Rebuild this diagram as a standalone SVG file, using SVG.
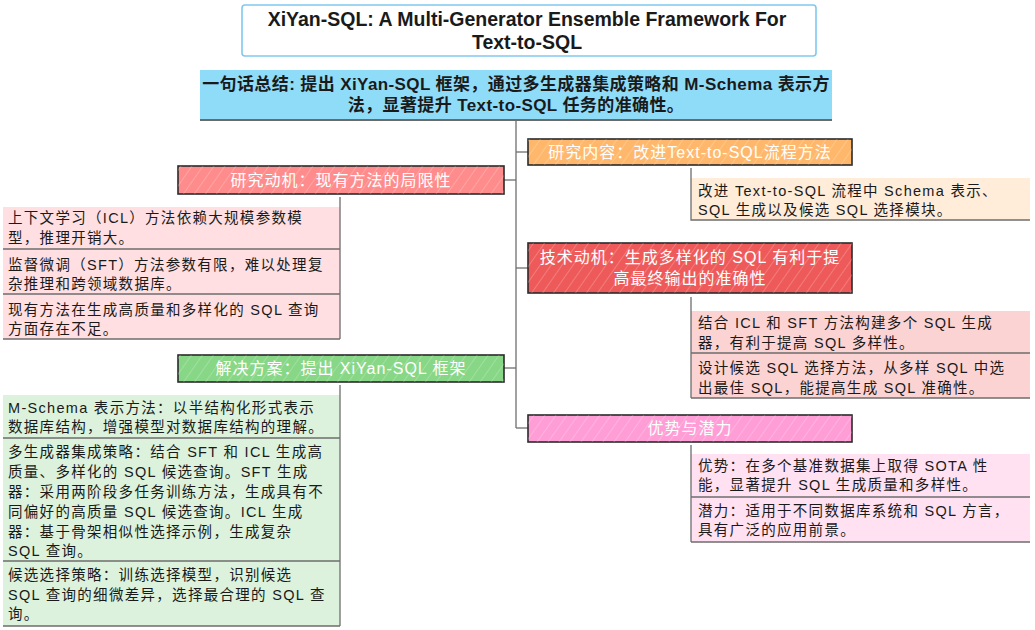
<svg xmlns="http://www.w3.org/2000/svg" width="1035" height="630" viewBox="0 0 1035 630">
<defs>
<pattern id="hatch" width="9" height="9" patternUnits="userSpaceOnUse" patternTransform="rotate(35)">
<line x1="0" y1="0" x2="0" y2="9" stroke="#ffffff" stroke-opacity="0.35" stroke-width="1.2"/>
</pattern>
<style>
.t{font-family:"Liberation Sans","Noto Sans CJK SC",sans-serif;fill:#1a1a1a}
.title{font-size:19.5px;font-weight:bold;text-anchor:middle}
.root{font-size:17px;font-weight:bold;text-anchor:middle;letter-spacing:0.4px}
.br{font-family:"Liberation Sans","Noto Sans CJK SC",sans-serif;font-size:16px;fill:#ffffff;text-anchor:middle;letter-spacing:1px}
.lf{font-size:14.5px;letter-spacing:1.3px}
.bx{stroke:#2a2a2a;stroke-width:1.6}
.con{stroke:#6e6e6e;stroke-width:1.3;fill:none}
.edge{stroke:#6e6e6e;stroke-width:1.3;fill:none}
</style>
</defs>
<rect width="1035" height="630" fill="#ffffff"/>

<g id="connectors">
<line class="con" x1="516" y1="120" x2="516" y2="428"/>
<line class="con" x1="504" y1="180" x2="516" y2="180"/>
<line class="con" x1="516" y1="152" x2="528" y2="152"/>
<line class="con" x1="516" y1="268" x2="528" y2="268"/>
<line class="con" x1="504" y1="368" x2="516" y2="368"/>
<line class="con" x1="516" y1="428" x2="528" y2="428"/>
</g>

<g id="title">
<rect x="242" y="5" width="574" height="51" rx="3" fill="#ffffff" stroke="#7fc9ef" stroke-width="1.6"/>
<text class="t title" x="527" y="26">XiYan-SQL: A Multi-Generator Ensemble Framework For</text>
<text class="t title" x="527" y="49">Text-to-SQL</text>
</g>

<g id="root">
<rect x="200" y="70" width="632" height="50" fill="#8fdcf8"/>
<line x1="200" y1="120" x2="832" y2="120" stroke="#6a6a6a" stroke-width="2"/>
<text class="t root" x="516" y="90">一句话总结: 提出 XiYan-SQL 框架，通过多生成器集成策略和 M-Schema 表示方</text>
<text class="t root" x="516" y="111">法，显著提升 Text-to-SQL 任务的准确性。</text>
</g>

<g id="b-motivation">
<rect class="bx" x="178" y="166" width="326" height="28" fill="#ff8c8c"/>
<rect x="178" y="166" width="326" height="28" fill="url(#hatch)"/>
<text class="br" x="341" y="186">研究动机：现有方法的局限性</text>
</g>
<g id="l-motivation">
<rect x="3" y="207" width="337" height="132" fill="#ffdfe1"/>
<path class="edge" d="M340 197 V339 M3 249 H340 M3 294 H340 M3 339 H340"/>
<text class="t lf" x="8" y="223">上下文学习（ICL）方法依赖大规模参数模</text>
<text class="t lf" x="8" y="243">型，推理开销大。</text>
<text class="t lf" x="8" y="270">监督微调（SFT）方法参数有限，难以处理复</text>
<text class="t lf" x="8" y="289">杂推理和跨领域数据库。</text>
<text class="t lf" x="8" y="315">现有方法在生成高质量和多样化的 SQL 查询</text>
<text class="t lf" x="8" y="334">方面存在不足。</text>
</g>

<g id="b-solution">
<rect class="bx" x="178" y="355" width="326" height="27" fill="#87d787"/>
<rect x="178" y="355" width="326" height="27" fill="url(#hatch)"/>
<text class="br" x="341" y="374">解决方案：提出 XiYan-SQL 框架</text>
</g>
<g id="l-solution">
<rect x="3" y="395" width="337" height="231" fill="#dcf2dc"/>
<path class="edge" d="M340 385 V626 M3 438 H340 M3 561 H340 M3 626 H340"/>
<text class="t lf" x="8" y="413">M-Schema 表示方法：以半结构化形式表示</text>
<text class="t lf" x="8" y="432">数据库结构，增强模型对数据库结构的理解。</text>
<text class="t lf" x="8" y="457">多生成器集成策略：结合 SFT 和 ICL 生成高</text>
<text class="t lf" x="8" y="477">质量、多样化的 SQL 候选查询。SFT 生成</text>
<text class="t lf" x="8" y="497">器：采用两阶段多任务训练方法，生成具有不</text>
<text class="t lf" x="8" y="517">同偏好的高质量 SQL 候选查询。ICL 生成</text>
<text class="t lf" x="8" y="537">器：基于骨架相似性选择示例，生成复杂</text>
<text class="t lf" x="8" y="556">SQL 查询。</text>
<text class="t lf" x="8" y="580">候选选择策略：训练选择模型，识别候选</text>
<text class="t lf" x="8" y="600">SQL 查询的细微差异，选择最合理的 SQL 查</text>
<text class="t lf" x="8" y="619">询。</text>
</g>

<g id="b-content">
<rect class="bx" x="528" y="139" width="324" height="26" fill="#ffb86b"/>
<rect x="528" y="139" width="324" height="26" fill="url(#hatch)"/>
<text class="br" x="690" y="158">研究内容：改进Text-to-SQL流程方法</text>
</g>
<g id="l-content">
<rect x="691" y="178" width="339" height="42" fill="#ffecd9"/>
<path class="edge" d="M691 168 V220 H1030"/>
<text class="t lf" x="698" y="196">改进 Text-to-SQL 流程中 Schema 表示、</text>
<text class="t lf" x="698" y="215">SQL 生成以及候选 SQL 选择模块。</text>
</g>

<g id="b-tech">
<rect class="bx" x="528" y="243" width="324" height="50" fill="#ee5a5a"/>
<rect x="528" y="243" width="324" height="50" fill="url(#hatch)"/>
<text class="br" x="690" y="263">技术动机：生成多样化的 SQL 有利于提</text>
<text class="br" x="690" y="284">高最终输出的准确性</text>
</g>
<g id="l-tech">
<rect x="691" y="311" width="339" height="87" fill="#fcd3d3"/>
<path class="edge" d="M691 297 V398 M691 353 H1030 M691 398 H1030"/>
<text class="t lf" x="698" y="328">结合 ICL 和 SFT 方法构建多个 SQL  生成</text>
<text class="t lf" x="698" y="348">器，有利于提高 SQL 多样性。</text>
<text class="t lf" x="698" y="373">设计候选 SQL 选择方法，从多样 SQL 中选</text>
<text class="t lf" x="698" y="393">出最佳 SQL，能提高生成 SQL 准确性。</text>
</g>

<g id="b-advantage">
<rect class="bx" x="528" y="415" width="324" height="27" fill="#ff9ed6"/>
<rect x="528" y="415" width="324" height="27" fill="url(#hatch)"/>
<text class="br" x="690" y="434">优势与潜力</text>
</g>
<g id="l-advantage">
<rect x="691" y="454" width="339" height="88" fill="#ffe1f2"/>
<path class="edge" d="M691 445 V542 M691 497 H1030 M691 542 H1030"/>
<text class="t lf" x="698" y="471">优势：在多个基准数据集上取得 SOTA 性</text>
<text class="t lf" x="698" y="490">能，显著提升 SQL 生成质量和多样性。</text>
<text class="t lf" x="698" y="516">潜力：适用于不同数据库系统和 SQL 方言，</text>
<text class="t lf" x="698" y="535">具有广泛的应用前景。</text>
</g>
</svg>
